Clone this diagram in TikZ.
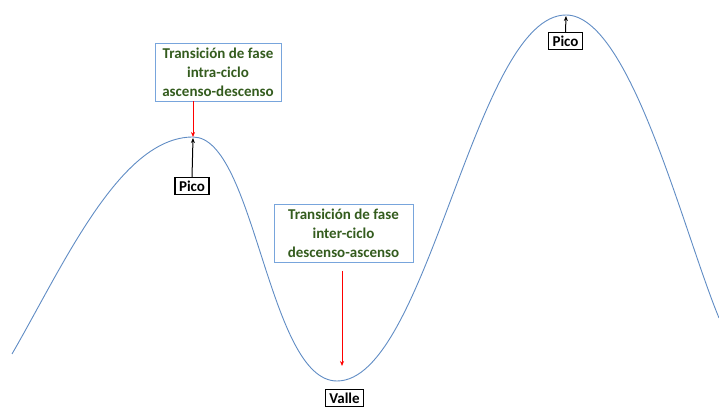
\documentclass[tikz,border=0pt]{standalone}
\usepackage{fontspec}
\setmainfont{Carlito}
\usepackage{tikz}
\usetikzlibrary{arrows.meta,positioning}
\definecolor{curveblue}{RGB}{96,140,196}
\definecolor{boxblue}{RGB}{120,165,220}
\definecolor{labelgreen}{RGB}{52,92,30}

\begin{document}
\begin{tikzpicture}[x=1pt,y=1pt,
        phase/.style={draw=boxblue, line width=0.9pt, fill=white, text=labelgreen,
            font=\fontsize{15}{19}\selectfont\bfseries, align=center,
            minimum height=58pt, inner xsep=4pt, inner ysep=2pt},
        tag/.style={draw=black, line width=1.1pt, fill=white,
            font=\fontsize{15}{16}\selectfont\bfseries, inner xsep=4pt, inner ysep=3pt},
        redarrow/.style={red, line width=0.8pt, -{Stealth[length=5pt,width=4pt]}},
        blackarrow/.style={black, line width=1pt, -{Stealth[length=5pt,width=4pt]}}]
            \useasboundingbox (0,0) rectangle (719,409);

            \coordinate (start)  at (12,55);
            \coordinate (peak1)  at (193,272);
            \coordinate (valley) at (337,28);
            \coordinate (peak2)  at (566,394);
            \coordinate (end)    at (719,91);
            \coordinate (valleytip) at (342,43);

            \draw[curveblue, line width=0.9pt] (start)
                .. controls (64,145) and (120,272) .. (peak1)
                .. controls (255,272) and (268,28) .. (valley)
                .. controls (428,28) and (475,394) .. (peak2)
                .. controls (630,394) and (683,178) .. (end);

            \node[phase, minimum width=126pt] (intra) at (218,337) {Transición de fase\\intra-ciclo\\ascenso-descenso};
            \node[phase, minimum width=139pt] (inter) at (343.5,175.5) {Transición de fase\\inter-ciclo\\descenso-ascenso};

            \node[tag] (pico1) at (192,223) {Pico};
            \node[tag] (pico2) at (565.5,368) {Pico};
            \node[tag] (valle) at (344.5,11) {Valle};

            \draw[redarrow] (intra.south -| peak1) -- (peak1);
            \draw[blackarrow] (pico1.north) -- ([yshift=-1pt]peak1);
            \draw[redarrow] ([yshift=-8pt]inter.south -| valleytip) -- (valleytip);
            \draw[blackarrow] (pico2.north) -- ([yshift=-1pt]peak2);
        \end{tikzpicture}
\end{document}
